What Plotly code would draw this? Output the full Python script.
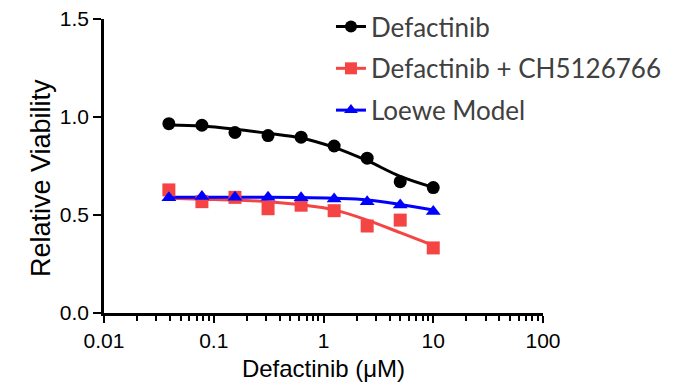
import plotly.graph_objects as go

conc = [0.039, 0.078, 0.156, 0.3125, 0.625, 1.25, 2.5, 5, 10]
defac = [0.966, 0.958, 0.921, 0.905, 0.897, 0.852, 0.790, 0.670, 0.640]
combo = [0.628, 0.568, 0.590, 0.532, 0.550, 0.522, 0.444, 0.474, 0.332]
loewe = [0.588, 0.595, 0.590, 0.590, 0.588, 0.582, 0.568, 0.551, 0.518]
defac_fit = [0.959, 0.954, 0.938, 0.917, 0.893, 0.845, 0.777, 0.697, 0.641]
combo_fit = [0.585, 0.580, 0.576, 0.568, 0.552, 0.526, 0.474, 0.410, 0.345]
loewe_fit = [0.590, 0.590, 0.590, 0.590, 0.589, 0.585, 0.577, 0.554, 0.526]

x_major = [0.01, 0.1, 1, 10, 100]
x_major_text = ["0.01", "0.1", "1", "10", "100"]
y_ticks = [0, 0.5, 1.0, 1.5]
y_tick_text = ["0.0", "0.5", "1.0", "1.5"]

names = ["Defactinib", "Defactinib + CH5126766", "Loewe Model"]
colors = ["#000000", "#F44444", "#0000FF"]
symbols = ["circle", "square", "triangle-up"]
pts = [defac, combo, loewe]
fits = [defac_fit, combo_fit, loewe_fit]

minor_vals = [m * d for d in [0.01, 0.1, 1, 10] for m in range(2, 10)]

fig = go.Figure()
for i in range(3):
    fig.add_trace(go.Scatter(
        x=conc, y=fits[i], mode="lines", line=dict(color=colors[i], width=3, shape="spline"),
        showlegend=False, hoverinfo="skip"))
for i in range(3):
    fig.add_trace(go.Scatter(
        x=conc, y=pts[i], mode="markers", name=names[i], legendgroup=names[i],
        marker=dict(color=colors[i], symbol=symbols[i], size=13, line=dict(width=0)),
        showlegend=False))
    fig.add_trace(go.Scatter(
        x=[None], y=[None], mode="lines+markers", name=names[i], legendgroup=names[i],
        line=dict(color=colors[i], width=3),
        marker=dict(color=colors[i], symbol=symbols[i], size=12)))

fig.add_annotation(text="Relative Viability", textangle=-90, xref="paper", yref="paper",
                   x=-0.1435, y=0.459, xanchor="center", yanchor="middle", showarrow=False,
                   font=dict(family="Liberation Sans, Arial", size=27, color="#000000"))

fig.update_layout(
    width=686, height=385,
    margin=dict(l=96, r=151, t=11, b=80, autoexpand=False),
    paper_bgcolor="white", plot_bgcolor="white",
    font=dict(family="Liberation Sans, Arial", size=21, color="#000000"),
    showlegend=True,
    legend=dict(x=0.517, y=1.054, xanchor="left", yanchor="top",
                font=dict(family="Lato", size=26, color="#404040"),
                bgcolor="rgba(0,0,0,0)", tracegroupgap=5, itemwidth=30),
    xaxis=dict(type="log", range=[-2, 2], showgrid=False, zeroline=False,
               showline=True, linecolor="black", linewidth=2.5,
               ticks="outside", ticklen=7, tickwidth=2, tickcolor="black",
               tickmode="array", tickvals=x_major, ticktext=x_major_text,
               ticklabeloverflow="allow",
               minor=dict(ticks="outside", ticklen=5, tickwidth=2, tickcolor="black",
                          tickmode="array", tickvals=minor_vals, showgrid=False),
               title=dict(text="Defactinib (μM)", standoff=10, font=dict(size=24)),
               tickfont=dict(size=21)),
    yaxis=dict(range=[0, 1.5], showgrid=False, zeroline=False,
               showline=True, linecolor="black", linewidth=2.5,
               ticks="outside", ticklen=8, tickwidth=2, tickcolor="black",
               tickmode="array", tickvals=y_ticks, ticktext=y_tick_text,
               ticklabeloverflow="allow",
               tickfont=dict(size=21)),
)

fig.write_html("out.html")
